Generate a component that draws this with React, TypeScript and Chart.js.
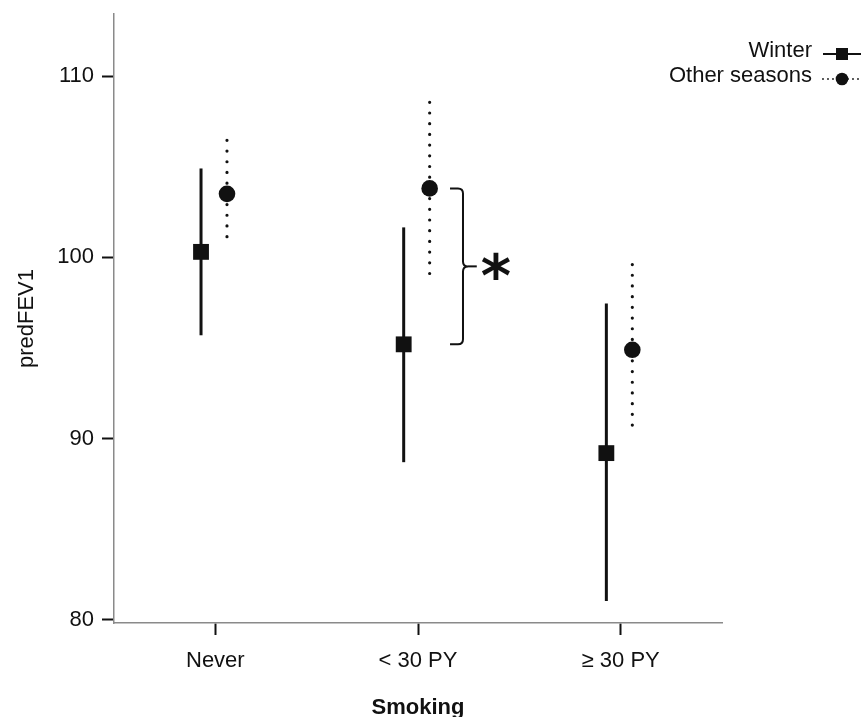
import React, { useEffect, useRef } from 'react';
import { Chart, registerables } from 'chart.js';

Chart.register(...registerables);

const categories = ['Never', '< 30 PY', '≥ 30 PY'];
const yTicks = [80, 90, 100, 110];

const winterMean = [100.3, 95.2, 89.2];
const winterLow = [95.7, 88.7, 81.05];
const winterHigh = [104.9, 101.65, 97.45];

const otherMean = [103.5, 103.8, 94.9];
const otherLow = [100.6, 99.1, 90.2];
const otherHigh = [106.45, 108.55, 99.6];

const seriesLabels = ['Winter', 'Other seasons'];
const significance = '*';

const FONT = '"Liberation Sans", Arial, Helvetica, sans-serif';
const STAR_FONT = '"DejaVu Sans", sans-serif';
const INK = '#111111';

const WINTER_OFFSET = -0.0706;
const OTHER_OFFSET = 0.0575;

export default function App() {
  const ref = useRef<HTMLCanvasElement | null>(null);

  useEffect(() => {
    const canvas = ref.current;
    if (!canvas) return;

    const bars = [
      { mean: winterMean, low: winterLow, high: winterHigh, offset: WINTER_OFFSET, dotted: false },
      { mean: otherMean, low: otherLow, high: otherHigh, offset: OTHER_OFFSET, dotted: true },
    ];

    const errorBarPlugin = {
      id: 'errorBars',
      beforeDatasetsDraw(chart: any) {
        const { ctx, scales } = chart;
        const x = scales.x;
        const y = scales.y;
        ctx.save();
        ctx.strokeStyle = INK;
        bars.forEach((b) => {
          b.mean.forEach((_, i) => {
            const px = x.getPixelForValue(i + b.offset);
            const top = y.getPixelForValue(b.high[i]);
            const bot = y.getPixelForValue(b.low[i]);
            ctx.beginPath();
            if (b.dotted) {
              ctx.lineWidth = 3.2;
              ctx.lineCap = 'round';
              ctx.setLineDash([0, 10.7]);
            } else {
              ctx.lineWidth = 3;
              ctx.lineCap = 'butt';
              ctx.setLineDash([]);
            }
            ctx.moveTo(px, top);
            ctx.lineTo(px, bot);
            ctx.stroke();
          });
        });
        ctx.restore();
      },
    };

    const bracketPlugin = {
      id: 'bracket',
      afterDatasetsDraw(chart: any) {
        const { ctx, scales } = chart;
        const x = scales.x;
        const y = scales.y;
        const yTop = y.getPixelForValue(otherMean[1]);
        const yBot = y.getPixelForValue(winterMean[1]);
        const yMid = (yTop + yBot) / 2;
        const xL = x.getPixelForValue(1.158);
        const xV = x.getPixelForValue(1.222);
        const xT = x.getPixelForValue(1.29);
        const r = 5;
        ctx.save();
        ctx.strokeStyle = INK;
        ctx.lineWidth = 2;
        ctx.lineCap = 'butt';
        ctx.beginPath();
        ctx.moveTo(xL, yTop);
        ctx.lineTo(xV - r, yTop);
        ctx.quadraticCurveTo(xV, yTop, xV, yTop + r);
        ctx.lineTo(xV, yMid - r);
        ctx.quadraticCurveTo(xV, yMid, xV + r, yMid);
        ctx.quadraticCurveTo(xV, yMid, xV, yMid + r);
        ctx.lineTo(xV, yBot - r);
        ctx.quadraticCurveTo(xV, yBot, xV - r, yBot);
        ctx.lineTo(xL, yBot);
        ctx.stroke();
        ctx.beginPath();
        ctx.moveTo(xV + r, yMid);
        ctx.lineTo(xT, yMid);
        ctx.stroke();

        // asterisk
        const ax = x.getPixelForValue(1.385);
        ctx.fillStyle = INK;
        ctx.font = `bold 58px ${STAR_FONT}`;
        ctx.textAlign = 'center';
        ctx.textBaseline = 'alphabetic';
        const m = ctx.measureText(significance);
        const asc = m.actualBoundingBoxAscent;
        const desc = m.actualBoundingBoxDescent;
        const baseline = yMid + (asc - desc) / 2;
        ctx.fillText(significance, ax, baseline);
        ctx.restore();
      },
    };

    const legendPlugin = {
      id: 'customLegend',
      afterDraw(chart: any) {
        const { ctx } = chart;
        ctx.save();
        ctx.font = `22px ${FONT}`;
        ctx.fillStyle = INK;
        ctx.textAlign = 'right';
        ctx.textBaseline = 'alphabetic';
        const textRight = 812;
        const rows = [57, 82];
        const symY = [54, 79];
        ctx.fillText(seriesLabels[0], textRight, rows[0]);
        ctx.fillText(seriesLabels[1], textRight, rows[1]);
        const lx0 = 823;
        const lx1 = 861;
        const mx = 842;
        ctx.strokeStyle = INK;
        ctx.lineWidth = 2;
        ctx.beginPath();
        ctx.moveTo(lx0, symY[0]);
        ctx.lineTo(lx1, symY[0]);
        ctx.stroke();
        ctx.fillRect(mx - 6, symY[0] - 6, 12, 12);
        ctx.lineWidth = 1.8;
        ctx.lineCap = 'round';
        ctx.setLineDash([0, 5]);
        ctx.beginPath();
        ctx.moveTo(lx0, symY[1]);
        ctx.lineTo(lx1, symY[1]);
        ctx.stroke();
        ctx.setLineDash([]);
        ctx.beginPath();
        ctx.arc(mx, symY[1], 6.3, 0, Math.PI * 2);
        ctx.fill();
        ctx.restore();
      },
    };

    const chart = new Chart(canvas, {
      type: 'scatter',
      data: {
        datasets: [
          {
            label: seriesLabels[0],
            data: winterMean.map((v, i) => ({ x: i + WINTER_OFFSET, y: v })),
            pointStyle: 'rect',
            pointRadius: 11.2,
            backgroundColor: INK,
            borderColor: INK,
            borderWidth: 0,
          },
          {
            label: seriesLabels[1],
            data: otherMean.map((v, i) => ({ x: i + OTHER_OFFSET, y: v })),
            pointStyle: 'circle',
            pointRadius: 8.3,
            backgroundColor: INK,
            borderColor: INK,
            borderWidth: 0,
          },
        ],
      },
      options: {
        animation: false,
        responsive: false,
        events: [],
        layout: { padding: { top: 14, right: 140, left: 0, bottom: 0 } },
        plugins: {
          legend: { display: false },
          tooltip: { enabled: false },
        },
        scales: {
          x: {
            type: 'linear',
            min: -0.5,
            max: 2.5,
            afterBuildTicks: (s: any) => {
              s.ticks = categories.map((_, i) => ({ value: i }));
            },
            afterFit: (s: any) => {
              s.height = 94;
              s.paddingLeft = 0;
              s.paddingRight = 0;
            },
            grid: {
              display: true,
              drawOnChartArea: false,
              drawTicks: true,
              tickLength: 12,
              tickColor: INK,
              tickWidth: 2,
            },
            border: { display: true, color: '#8a8a8a', width: 1.5 },
            ticks: {
              callback: (v: any) => categories[v as number] ?? '',
              font: { family: FONT, size: 22 },
              color: INK,
              padding: 13,
              maxRotation: 0,
              autoSkip: false,
            },
            title: {
              display: true,
              text: 'Smoking',
              font: { family: FONT, size: 22, weight: 'bold', lineHeight: 0.8 },
              color: INK,
              padding: { top: 0, bottom: 0 },
            },
          },
          y: {
            type: 'linear',
            min: 79.83,
            max: 113.42,
            afterBuildTicks: (s: any) => {
              s.ticks = yTicks.map((v) => ({ value: v }));
            },
            afterFit: (s: any) => {
              s.width = 114;
              s.paddingTop = 0;
              s.paddingBottom = 0;
            },
            grid: {
              display: true,
              drawOnChartArea: false,
              drawTicks: true,
              tickLength: 12,
              tickColor: INK,
              tickWidth: 2,
            },
            border: { display: true, color: '#8a8a8a', width: 1.5 },
            ticks: {
              font: { family: FONT, size: 22 },
              color: INK,
              padding: 8,
              autoSkip: false,
            },
            title: {
              display: true,
              text: 'predFEV1',
              font: { family: FONT, size: 22 },
              color: INK,
              padding: { top: 14, bottom: 0 },
            },
          },
        },
      },
      plugins: [errorBarPlugin, bracketPlugin, legendPlugin],
    });

    return () => {
      chart.destroy();
    };
  }, []);

  return (
    <div style={{ position: 'absolute', left: 0, top: 0, width: 862, height: 717, background: '#fff' }}>
      <canvas ref={ref} width={862} height={717} style={{ display: 'block', width: 862, height: 717 }} />
    </div>
  );
}
